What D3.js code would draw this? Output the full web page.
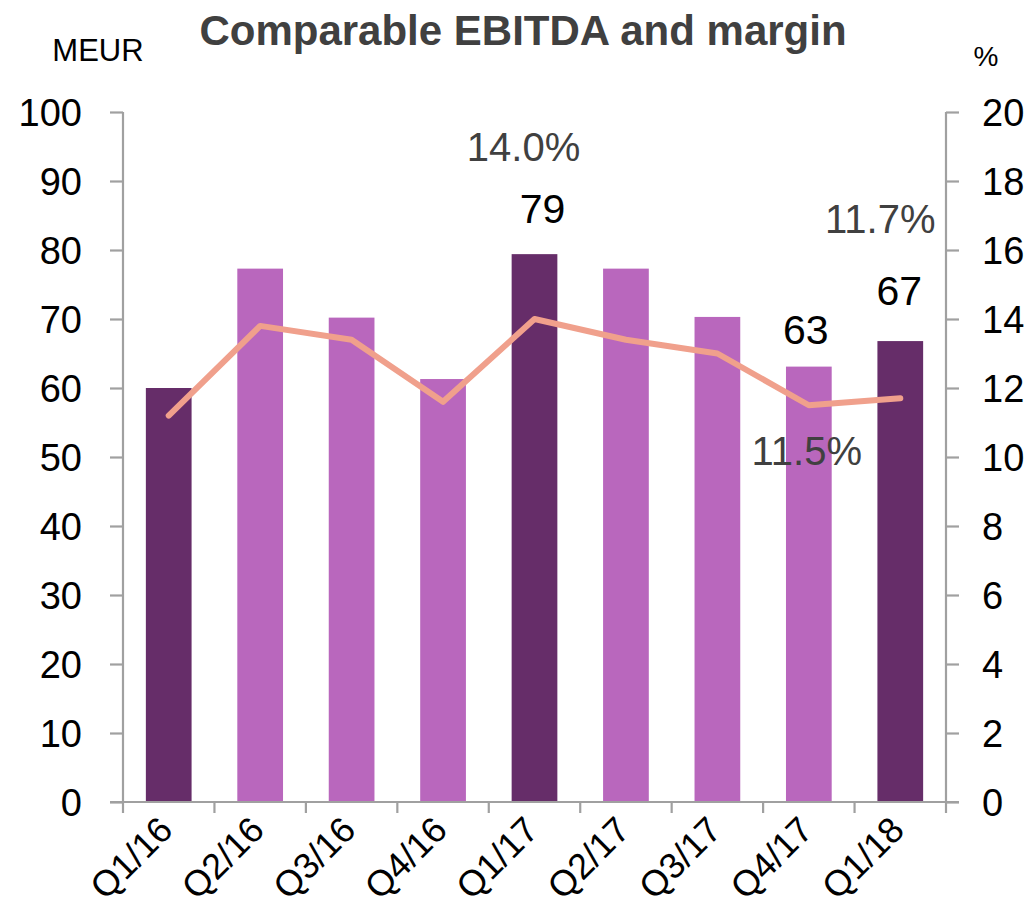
<!DOCTYPE html>
<html><head><meta charset="utf-8">
<script src="https://cdn.jsdelivr.net/npm/d3@7"></script>
<style>body{margin:0;background:#fff}text{font-family:"Liberation Sans",Arial,sans-serif}</style>
</head><body><svg id="c" width="1034" height="912"></svg>
<script>
const categories = ["Q1/16","Q2/16","Q3/16","Q4/16","Q1/17","Q2/17","Q3/17","Q4/17","Q1/18"];
const ebitda = [60.0, 77.3, 70.2, 61.3, 79.4, 77.3, 70.3, 63.1, 66.8];
const margin = [11.2, 13.8, 13.4, 11.6, 14.0, 13.4, 13.0, 11.5, 11.7];
const highlight = [true,false,false,false,true,false,false,false,true];
const leftTicks = [0,10,20,30,40,50,60,70,80,90,100];
const rightTicks = [0,2,4,6,8,10,12,14,16,18,20];
const barLabels = [{i:4,text:"79",dx:8,dy:-31},{i:7,text:"63",dx:-3,dy:-23},{i:8,text:"67",dx:-1,dy:-36}];
const marginLabels = [{i:4,text:"14.0%",dx:-11,dy:-158},{i:7,text:"11.5%",dx:-2,dy:60},{i:8,text:"11.7%",dx:-20,dy:-165}];

const svg = d3.select("#c");
const L = 123, R = 946, T = 112, B = 802;
const x = d3.scaleBand().domain(categories).range([L,R]).paddingInner(0.5).paddingOuter(0.25);
const y = d3.scaleLinear().domain([0,100]).range([B,T]);
const y2 = d3.scaleLinear().domain([0,20]).range([B,T]);
const axisCol = "#a0a0a0";

// bars
svg.selectAll("rect.bar").data(ebitda).join("rect")
  .attr("x",(d,i)=>x(categories[i])).attr("width",x.bandwidth())
  .attr("y",d=>y(d)).attr("height",d=>B-y(d))
  .attr("fill",(d,i)=>highlight[i]?"#662d69":"#b967bd");

// left axis
const la = svg.append("g").attr("transform",`translate(${L},0)`)
  .call(d3.axisLeft(y).tickValues(leftTicks).tickSize(13).tickPadding(28));
// right axis
const ra = svg.append("g").attr("transform",`translate(${R},0)`)
  .call(d3.axisRight(y2).tickValues(rightTicks).tickSize(13).tickPadding(23));
[la,ra].forEach(g=>{
  g.select(".domain").attr("stroke",axisCol).attr("stroke-width",2.2).attr("d",`M0,${T}V${B}`);
  g.selectAll(".tick line").attr("stroke",axisCol).attr("stroke-width",2.2);
  g.selectAll(".tick text").attr("font-size",38).attr("fill","#000").attr("dy","0.36em")
   .attr("font-family","Liberation Sans, Arial, sans-serif");
});

// x axis
const step = x.step();
const bounds = d3.range(categories.length+1).map(k=>L+k*step);
svg.append("line").attr("x1",L-13).attr("x2",R+13).attr("y1",B).attr("y2",B)
  .attr("stroke",axisCol).attr("stroke-width",2.2);
svg.selectAll("line.xt").data(bounds).join("line").attr("class","xt")
  .attr("x1",d=>d).attr("x2",d=>d).attr("y1",B).attr("y2",B+11)
  .attr("stroke",axisCol).attr("stroke-width",2.2);
svg.selectAll("text.xl").data(categories).join("text").attr("class","xl")
  .attr("text-anchor","end").attr("font-size",36).attr("fill","#000")
  .attr("transform",d=>`translate(${x(d)+x.bandwidth()/2+6},${B+30}) rotate(-45)`)
  .text(d=>d);

// margin line
const line = d3.line().x((d,i)=>x(categories[i])+x.bandwidth()/2).y(d=>y2(d));
svg.append("path").datum(margin).attr("d",line).attr("fill","none")
  .attr("stroke","#f0a08c").attr("stroke-width",6).attr("stroke-linecap","round").attr("stroke-linejoin","round");

// bar labels
svg.selectAll("text.bl").data(barLabels).join("text").attr("class","bl")
  .attr("x",d=>x(categories[d.i])+x.bandwidth()/2+d.dx).attr("y",d=>y(ebitda[d.i])+d.dy)
  .attr("text-anchor","middle").attr("font-size",41).attr("fill","#000").text(d=>d.text);
// margin labels
svg.selectAll("text.ml").data(marginLabels).join("text").attr("class","ml")
  .attr("x",d=>x(categories[d.i])+x.bandwidth()/2+d.dx).attr("y",d=>y2(margin[d.i])+d.dy)
  .attr("text-anchor","middle").attr("font-size",40).attr("fill","#404040").text(d=>d.text);

// titles
svg.append("text").attr("x",523).attr("y",45).attr("text-anchor","middle")
  .attr("font-size",42).attr("font-weight","bold").attr("fill","#404040").text("Comparable EBITDA and margin");
svg.append("text").attr("x",98).attr("y",61).attr("text-anchor","middle")
  .attr("font-size",31).attr("fill","#000").text("MEUR");
svg.append("text").attr("x",986).attr("y",66).attr("text-anchor","middle")
  .attr("font-size",28).attr("fill","#000").text("%");
</script></body></html>
